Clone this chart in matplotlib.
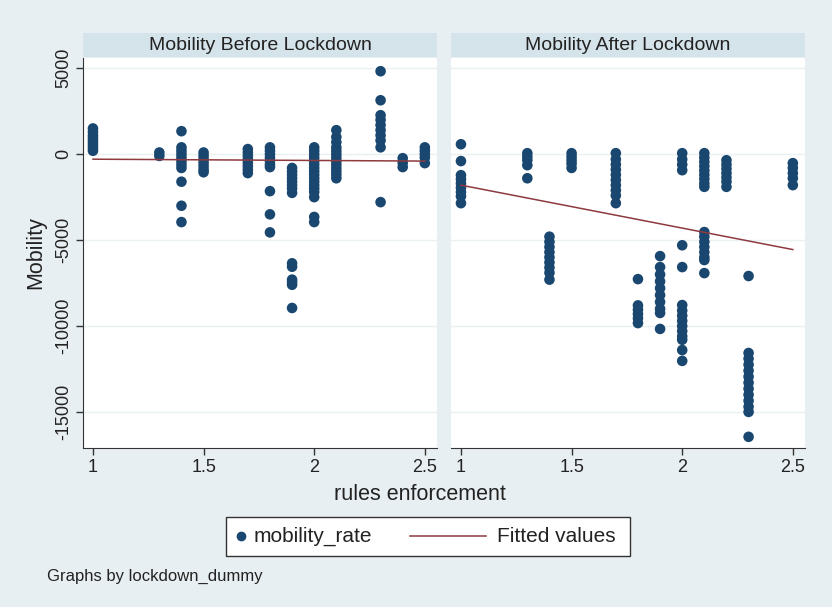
import matplotlib
matplotlib.use("Agg")
import matplotlib.pyplot as plt
from matplotlib.patches import Rectangle
from matplotlib.lines import Line2D

# ── Data ──────────────────────────────────────────────────────────────────────
rules = [1.0, 1.3, 1.4, 1.5, 1.7, 1.8, 1.9, 2.0, 2.1, 2.2, 2.3, 2.4, 2.5]

before_mob = [
    [1500, 1300, 1100, 950, 800, 650, 500, 350, 200],                         # 1.0
    [100, -100],                                                              # 1.3
    [1340, 400, 200, 0, -200, -400, -600, -800, -1600, -3000, -3950],         # 1.4
    [100, -100, -300, -500, -700, -900, -1050],                               # 1.5
    [300, 100, -100, -300, -500, -700, -900, -1100],                          # 1.7
    [400, 200, 0, -200, -400, -600, -750, -2150, -3500, -4550],               # 1.8
    [-800, -1000, -1200, -1400, -1600, -1800, -2000, -2250,
     -6350, -6550, -7300, -7450, -7600, -8950],                               # 1.9
    [400, 200, 0, -200, -400, -600, -800, -1000, -1200, -1400, -1600,
     -1800, -2000, -2200, -2500, -3650, -3950],                               # 2.0
    [1400, 1000, 700, 400, 200, 0, -200, -400, -600, -800, -1000,
     -1200, -1400],                                                           # 2.1
    [],                                                                       # 2.2
    [4830, 3140, 2270, 2000, 1700, 1400, 1100, 800, 400, -2790],              # 2.3
    [-230, -500, -750],                                                       # 2.4
    [400, 200, 0, -200, -520],                                                # 2.5
]

after_mob = [
    [580, -400, -1220, -1450, -1700, -1950, -2200, -2450, -2850],             # 1.0
    [60, -150, -350, -640, -1400],                                            # 1.3
    [-4800, -5100, -5400, -5700, -6000, -6300, -6600, -6900, -7300],          # 1.4
    [60, -150, -350, -550, -800],                                             # 1.5
    [60, -300, -600, -900, -1200, -1500, -1800, -2100, -2400, -2850],         # 1.7
    [-7270, -8800, -9050, -9300, -9550, -9830],                               # 1.8
    [-5930, -6570, -7000, -7400, -7800, -8200, -8600, -9000, -9240, -10170],  # 1.9
    [60, -300, -600, -930, -5300, -6570, -8780, -9100, -9400, -9700,
     -10000, -10300, -10600, -10800, -11400, -12030],                         # 2.0
    [60, -200, -450, -700, -950, -1200, -1450, -1700, -1900,
     -4530, -4800, -5100, -5400, -5700, -6000, -6160, -6920],                 # 2.1
    [-350, -600, -850, -1100, -1350, -1600, -1900],                           # 2.2
    [-7090, -11570, -11900, -12250, -12600, -12950, -13300, -13650,
     -14000, -14350, -14700, -15000, -16450],                                 # 2.3
    [],                                                                       # 2.4
    [-520, -800, -1100, -1400, -1800],                                        # 2.5
]

fit_x = [1.0, 2.5]
fit_before = [-290, -400]
fit_after = [-1800, -5550]

panel_titles = ["Mobility Before Lockdown", "Mobility After Lockdown"]
legend_labels = ["mobility_rate", "Fitted values"]
xticks = [1, 1.5, 2, 2.5]
xtick_labels = ["1", "1.5", "2", "2.5"]
yticks = [5000, 0, -5000, -10000, -15000]

# ── Style ─────────────────────────────────────────────────────────────────────
BG = "#E8EFF2"
STRIP = "#D5E3EA"
GRID = "#EAF1F3"
NAVY = "#1A476F"
MAROON = "#8E3A3E"
INK = "#222222"
plt.rcParams["font.family"] = "Liberation Sans"

fig = plt.figure(figsize=(8.32, 6.07), dpi=100, facecolor=BG)

W, H = 832, 607
def fx(px):
    return px / W
def fy(py):
    return 1 - py / H
def box(x0, y0, x1, y1):
    return [fx(x0), fy(y1), (x1 - x0) / W, (y1 - y0) / H]

panels = [box(83, 58, 437, 448), box(451, 58, 805, 448)]
data = [(before_mob, fit_before), (after_mob, fit_after)]

for i, (rect, (mob, fit)) in enumerate(zip(panels, data)):
    ax = fig.add_axes(rect)
    ax.set_facecolor("white")
    xs, ys = [], []
    for r, vals in zip(rules, mob):
        xs += [r] * len(vals)
        ys += vals
    ax.scatter(xs, ys, s=58, color=NAVY, edgecolors="none", zorder=3)
    ax.plot(fit_x, fit, color=MAROON, lw=1.1, zorder=4)

    ax.set_xlim(0.955, 2.555)
    ax.set_ylim(-17100, 5600)
    ax.set_yticks(yticks)
    ax.yaxis.grid(True, color=GRID, lw=1.0)
    ax.set_axisbelow(True)
    ax.set_xticks(xticks)
    ax.set_xticklabels(xtick_labels, fontsize=13, color=INK)
    ax.tick_params(axis="x", length=5, width=1, color="#333333", pad=3)

    for s in ["top", "right"]:
        ax.spines[s].set_visible(False)
    ax.spines["bottom"].set_color("#333333")
    if i == 0:
        ax.spines["left"].set_color("#333333")
        ax.set_yticklabels([f"{v}" for v in yticks], fontsize=13,
                           rotation=90, va="center", color=INK)
        ax.tick_params(axis="y", length=5, width=1, color="#333333", pad=3)
        ax.set_ylabel("Mobility", fontsize=15.5, labelpad=6, color=INK)
    else:
        ax.spines["left"].set_visible(False)
        ax.tick_params(axis="y", length=0, labelleft=False)

    # panel header strip
    fig.patches.append(Rectangle((rect[0], fy(57)), rect[2], 24 / H,
                                 transform=fig.transFigure, facecolor=STRIP,
                                 edgecolor="none", zorder=0))
    fig.text(rect[0] + rect[2] / 2, fy(45), panel_titles[i], ha="center",
             va="center", fontsize=14, color=INK)

fig.text(fx(420), fy(495), "rules enforcement", ha="center", va="center",
         fontsize=15.5, color=INK)

# ── Legend (drawn by hand to match Stata's key layout) ───────────────────────
fig.add_artist(Rectangle((fx(226), fy(556)), (630 - 226) / W, 39 / H,
                         transform=fig.transFigure, facecolor="white",
                         edgecolor="#333333", lw=1.0))
fig.add_artist(Line2D([fx(241)], [fy(536)], marker="o", ls="none",
                      color=NAVY, markersize=6, transform=fig.transFigure))
fig.text(fx(254), fy(536), legend_labels[0], ha="left", va="center",
         fontsize=15, color=INK)
fig.add_artist(Line2D([fx(410), fx(486)], [fy(536), fy(536)], color=MAROON,
                      lw=1.1, transform=fig.transFigure))
fig.text(fx(497), fy(536), legend_labels[1], ha="left", va="center",
         fontsize=15, color=INK)

fig.text(fx(47), fy(576), "Graphs by lockdown_dummy", ha="left",
         va="center", fontsize=12, color=INK)

fig.savefig("out.png", dpi=100, facecolor=BG)
